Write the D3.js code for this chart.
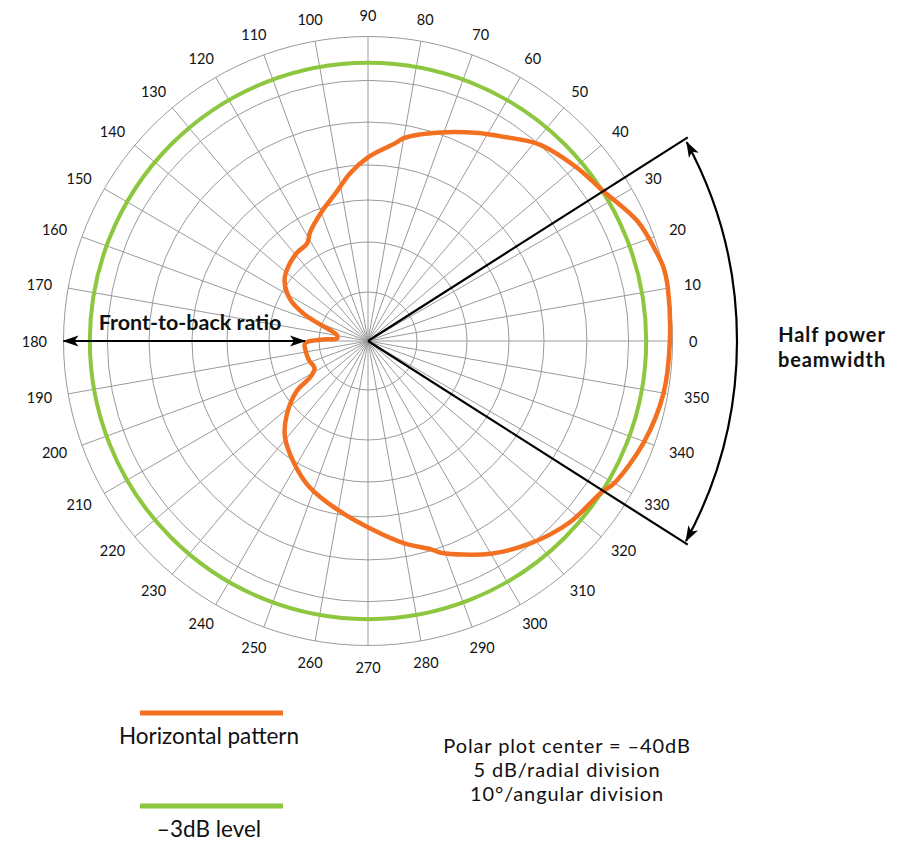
<!DOCTYPE html>
<html>
<head>
<meta charset="utf-8">
<script src="https://cdn.jsdelivr.net/npm/d3@7"></script>
<style>
  html, body { margin: 0; padding: 0; background: #fff; }
  svg { display: block; }
  text { font-family: Lato, "Open Sans", sans-serif; fill: #111; }
</style>
</head>
<body>
<svg id="chart" width="898" height="843"></svg>
<script>
// ---------- data ----------
const angleTicks = d3.range(0, 360, 10);           // angular divisions (deg)
const ringLevels = [-30, -25, -20, -15, -10, -5, 0]; // dB rings
const centerDb = -40;
const halfPowerDb = -3;
const beamEdges = [32.5, 327.5];                    // half-power beam edges (deg)

const patternAngles = [0, 10, 14, 17, 24, 33, 40, 49, 57, 62, 71, 80, 82, 90, 96, 102, 110, 118, 122, 129, 137, 144, 152, 157, 160, 164, 169, 175, 178, 182, 190, 198, 207, 212, 215, 222, 229, 239, 248, 260, 271, 280, 287, 289, 300, 309, 318, 327, 330, 340, 350];
const patternDb     = [-0.3, 0, 0, -0.3, -1.1, -3.0, -3.8, -5.0, -7.0, -8.0, -9.8, -11.5, -12.2, -14.1, -16.0, -18.4, -20.5, -22.1, -23.1, -23.3, -23.8, -24.5, -26.1, -27.9, -29.4, -32.0, -33.5, -33.7, -30.8, -28.6, -28.6, -28.7, -28.9, -28.1, -26.2, -23.8, -21.7, -19.7, -17.7, -15.6, -13.6, -11.6, -10.1, -9.4, -6.8, -5.1, -3.8, -3.0, -2.3, -1.2, -0.5];

const legendLabels = ["Horizontal pattern", "\u20133dB level"];
const notes = ["Polar plot center = \u201340dB", "5 dB/radial division", "10\u00b0/angular division"];

// ---------- layout ----------
const svg = d3.select("#chart");
const cx = 368, cy = 341, R = 304.5;
const orange = "#f37021", green = "#8dc63f", grid = "#9a9a9a";

// piecewise radial scale (ring spacing of the original drawing)
const rScale = d3.scaleLinear()
  .domain([centerDb].concat(ringLevels))
  .range([0, 0.161, 0.325, 0.463, 0.578, 0.719, 0.856, 1].map(f => f * R))
  .clamp(true);
const toRad = d => d * Math.PI / 180;

const g = svg.append("g").attr("transform", `translate(${cx},${cy})`);

// rings
g.selectAll("circle.ring").data(ringLevels).join("circle")
  .attr("class", "ring").attr("r", d => rScale(d))
  .attr("fill", "none").attr("stroke", grid).attr("stroke-width", 1);

// spokes
g.selectAll("line.spoke").data(angleTicks).join("line")
  .attr("x1", 0).attr("y1", 0)
  .attr("x2", d => R * Math.cos(toRad(d)))
  .attr("y2", d => -R * Math.sin(toRad(d)))
  .attr("stroke", grid).attr("stroke-width", 1);

// angle labels
const lbl = g.selectAll("text.ang").data(angleTicks).join("text")
  .attr("class", "ang")
  .attr("text-anchor", "middle").attr("dominant-baseline", "central")
  .style("font-size", "14.5px")
  .text(d => d);
lbl.each(function(d) {
  const w = this.getComputedTextLength();
  const a = toRad(d), r0 = 321;
  const x = r0 * Math.cos(a) + (w / 2) * Math.cos(a);
  const y = -r0 * Math.sin(a) - 5 * Math.sin(a);
  d3.select(this).attr("x", x).attr("y", y);
});

// -3 dB circle
g.append("circle").attr("r", rScale(halfPowerDb))
  .attr("fill", "none").attr("stroke", green).attr("stroke-width", 4);

// pattern
const patternData = patternAngles.map((a, i) => ({ angle: a, db: patternDb[i] }));
const radial = d3.lineRadial()
  .angle(d => toRad(90 - d.angle))
  .radius(d => rScale(d.db))
  .curve(d3.curveCatmullRomClosed.alpha(0.5));
g.append("path").datum(patternData)
  .attr("d", radial)
  .attr("fill", "none").attr("stroke", orange).attr("stroke-width", 4.5)
  .attr("stroke-linejoin", "round");

// arrow markers
const defs = svg.append("defs");
defs.append("marker").attr("id", "ah")
  .attr("viewBox", "0 -6 16 12").attr("refX", 15).attr("refY", 0)
  .attr("markerWidth", 16).attr("markerHeight", 12)
  .attr("markerUnits", "userSpaceOnUse")
  .attr("orient", "auto-start-reverse")
  .append("path").attr("d", "M0,-5.5 L16,0 L0,5.5 L4,0 Z").attr("fill", "#000");

// half power beam lines
const beamLen = R * 1.245;
g.selectAll("line.beam").data(beamEdges).join("line")
  .attr("x1", 0).attr("y1", 0)
  .attr("x2", d => beamLen * Math.cos(toRad(d)))
  .attr("y2", d => -beamLen * Math.sin(toRad(d)))
  .attr("stroke", "#000").attr("stroke-width", 2.2);

// curved double arrow (arc centred slightly left of the plot centre)
const arcOff = -49, arcR = 418;
const arcPath = d3.path();
const a0 = toRad(-28.4), a1 = toRad(28.6);
arcPath.moveTo(arcOff + arcR * Math.cos(a0), arcR * Math.sin(a0));
arcPath.arc(arcOff, 0, arcR, a0, a1);
g.append("path").attr("d", arcPath.toString())
  .attr("fill", "none").attr("stroke", "#000").attr("stroke-width", 2.2)
  .attr("marker-start", "url(#ah)").attr("marker-end", "url(#ah)");

// front-to-back arrow
const backDb = patternDb[patternAngles.indexOf(182)];
g.append("line")
  .attr("x1", -R).attr("y1", 0)
  .attr("x2", -rScale(backDb)).attr("y2", 0)
  .attr("stroke", "#000").attr("stroke-width", 2.2)
  .attr("marker-start", "url(#ah)").attr("marker-end", "url(#ah)");

svg.append("text").attr("x", 190).attr("y", 330)
  .attr("text-anchor", "middle").style("font-size", "21.5px").style("font-weight", "bold")
  .text("Front-to-back ratio");

const hpLines = ["Half power", "beamwidth"];
svg.selectAll("text.hp").data(hpLines).join("text")
  .attr("class", "hp")
  .attr("x", 832).attr("y", (d, i) => 342 + i * 24.5)
  .attr("text-anchor", "middle").style("font-size", "20px").style("font-weight", "bold")
  .style("letter-spacing", "0.9px")
  .text(d => d);

// legend
const legendColors = [orange, green];
const leg = svg.selectAll("g.leg").data(legendLabels).join("g")
  .attr("class", "leg")
  .attr("transform", (d, i) => `translate(0,${713 + i * 93})`);
leg.append("line").attr("x1", 140).attr("x2", 283).attr("y1", 0).attr("y2", 0)
  .attr("stroke", (d, i) => legendColors[i]).attr("stroke-width", 5);
leg.append("text").attr("x", 209).attr("y", 31)
  .attr("text-anchor", "middle").style("font-size", "22.5px")
  .text(d => d);

// notes
svg.selectAll("text.note").data(notes).join("text")
  .attr("class", "note")
  .attr("x", 567).attr("y", (d, i) => 753 + i * 24.2)
  .attr("text-anchor", "middle").style("font-size", "20px")
  .style("letter-spacing", "0.9px")
  .text(d => d);
</script>
</body>
</html>
